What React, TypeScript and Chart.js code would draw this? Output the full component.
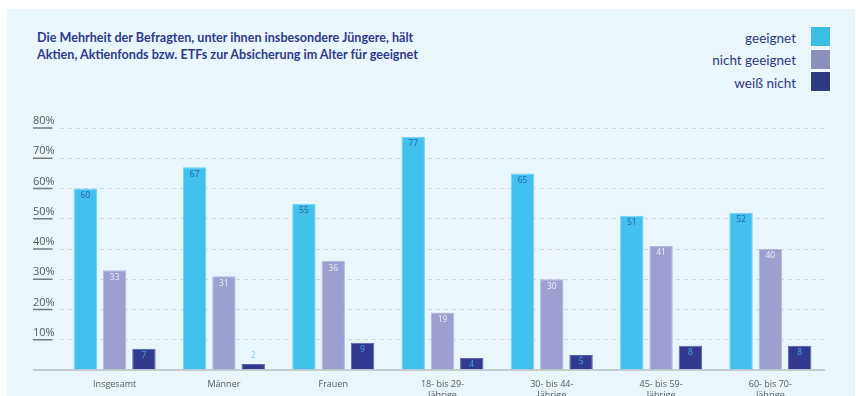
import React, { useEffect, useRef } from "react";
import { Chart, registerables } from "chart.js";

Chart.register(...registerables);

const TITLE_LINES = [
  "Die Mehrheit der Befragten, unter ihnen insbesondere Jüngere, hält",
  "Aktien, Aktienfonds bzw. ETFs zur Absicherung im Alter für geeignet",
];

const CATEGORIES: (string | string[])[] = [
  "Insgesamt",
  "Männer",
  "Frauen",
  ["18- bis 29-", "Jährige"],
  ["30- bis 44-", "Jährige"],
  ["45- bis 59-", "Jährige"],
  ["60- bis 70-", "Jährige"],
];

const SERIES_NAMES = ["geeignet", "nicht geeignet", "weiß nicht"];
const GEEIGNET = [60, 67, 55, 77, 65, 51, 52];
const NICHT_GEEIGNET = [33, 31, 36, 19, 30, 41, 40];
const WEISS_NICHT = [7, 2, 9, 4, 5, 8, 8];

const Y_TICKS = [0, 10, 20, 30, 40, 50, 60, 70, 80];

const BAR_FILL = ["#42c0ee", "#9c9fcf", "#33398e"];
const BAR_BORDER = ["#74d2f3", "#b7badf", "#5b63a8"];
const LEGEND_FILL = ["#38bfe3", "#8b91bd", "#2e3a82"];
const LABEL_COLOR = ["#2f5fa8", "#eef0fa", "#3fa9e6"];
const LABEL_ABOVE_COLOR = "#7fd3f5";

const FONT = "'Open Sans', 'Noto Sans', sans-serif";

const valueLabels = {
  id: "valueLabels",
  afterDatasetsDraw(chart: any) {
    const ctx = chart.ctx;
    ctx.save();
    ctx.font = `8.5px ${FONT}`;
    ctx.textAlign = "center";
    ctx.textBaseline = "middle";
    chart.data.datasets.forEach((ds: any, di: number) => {
      const meta = chart.getDatasetMeta(di);
      meta.data.forEach((bar: any, i: number) => {
        const h = bar.base - bar.y;
        const v = ds.data[i];
        if (h < 10) {
          ctx.fillStyle = LABEL_ABOVE_COLOR;
          ctx.fillText(String(v), bar.x, bar.y - 8);
        } else {
          ctx.fillStyle = LABEL_COLOR[di];
          ctx.fillText(String(v), bar.x, bar.y + 7);
        }
      });
    });
    ctx.restore();
  },
};

const axisDecor = {
  id: "axisDecor",
  afterDraw(chart: any) {
    const ctx = chart.ctx;
    const y = chart.scales.y;
    const area = chart.chartArea;
    ctx.save();
    ctx.lineWidth = 1.5;
    y.ticks.forEach((t: any) => {
      const py = y.getPixelForValue(t.value);
      if (t.value === 0) {
        ctx.strokeStyle = "#b9bec2";
        ctx.beginPath();
        ctx.moveTo(y.left, py);
        ctx.lineTo(area.right, py);
        ctx.stroke();
      } else {
        ctx.strokeStyle = "#6f7c82";
        ctx.beginPath();
        ctx.moveTo(y.left, py);
        ctx.lineTo(y.left + 19.5, py);
        ctx.stroke();
      }
    });
    ctx.restore();
  },
};

export default function App() {
  const canvasRef = useRef<HTMLCanvasElement | null>(null);

  useEffect(() => {
    if (!canvasRef.current) return;
    const data = [GEEIGNET, NICHT_GEEIGNET, WEISS_NICHT];
    const chart = new Chart(canvasRef.current, {
      type: "bar",
      data: {
        labels: CATEGORIES,
        datasets: SERIES_NAMES.map((name, i) => ({
          label: name,
          data: data[i],
          backgroundColor: BAR_FILL[i],
          borderColor: BAR_BORDER[i],
          borderWidth: 1,
          borderSkipped: "bottom",
          categoryPercentage: 0.804,
          barPercentage: 0.8,
        })),
      },
      options: {
        animation: false,
        responsive: false,
        maintainAspectRatio: false,
        layout: { padding: { top: 128, left: 33, right: 31, bottom: 0 } },
        plugins: {
          legend: { display: false },
          tooltip: { enabled: false },
          title: { display: false },
        },
        scales: {
          x: {
            grid: { display: false, drawTicks: false },
            border: { display: false },
            ticks: {
              font: { family: FONT, size: 9, lineHeight: 1.2 },
              color: "#555a5e",
              padding: 9,
              maxRotation: 0,
              autoSkip: false,
            },
            afterFit: (s: any) => {
              s.height = 50;
            },
          },
          y: {
            min: 0,
            max: 80,
            afterBuildTicks: (s: any) => {
              s.ticks = Y_TICKS.map((v) => ({ value: v }));
            },
            grid: {
              color: (c: any) => (c.tick && c.tick.value === 0 ? "rgba(0,0,0,0)" : "#ccd6da"),
              lineWidth: 1,
              drawTicks: false,
            },
            border: { display: false, dash: [4, 4] },
            ticks: {
              callback: (v: any) => (v === 0 ? "" : v + "%"),
              font: { family: FONT, size: 11 },
              color: "#555a5e",
              crossAlign: "far",
              labelOffset: -7,
              padding: 0,
            },
            afterFit: (s: any) => {
              s.width = 27;
            },
          },
        },
      },
      plugins: [valueLabels, axisDecor],
    });
    return () => chart.destroy();
  }, []);

  return (
    <div
      style={{
        position: "absolute",
        left: 0,
        top: 0,
        width: 856,
        height: 396,
        overflow: "hidden",
        background: "#ffffff",
      }}
    >
      <div
        style={{
          position: "absolute",
          left: 7,
          top: 9,
          width: 848,
          height: 400,
          background: "#e9f6fb",
        }}
      />
      <div
        style={{
          position: "absolute",
          left: 37,
          top: 30,
          fontFamily: "Lato, 'Open Sans', sans-serif",
          fontWeight: 700,
          fontSize: 12.6,
          lineHeight: "16.7px",
          color: "#2e3a8c",
          whiteSpace: "nowrap",
        }}
      >
        <div>{TITLE_LINES[0]}</div>
        <div>{TITLE_LINES[1]}</div>
      </div>
      <div style={{ position: "absolute", right: 26, top: 27 }}>
        {SERIES_NAMES.map((name, i) => (
          <div
            key={name}
            style={{
              display: "flex",
              alignItems: "center",
              justifyContent: "flex-end",
              height: 19.5,
              marginBottom: 3,
            }}
          >
            <span
              style={{
                fontFamily: "Lato, 'Open Sans', sans-serif",
                fontSize: 13.5,
                color: "#2e3a80",
                marginRight: 15,
                whiteSpace: "nowrap",
                position: "relative",
                top: 1,
              }}
            >
              {name}
            </span>
            <span
              style={{
                display: "inline-block",
                width: 19,
                height: 19,
                background: LEGEND_FILL[i],
                outline: "1px solid rgba(255,255,255,0.5)",
              }}
            />
          </div>
        ))}
      </div>
      <canvas
        ref={canvasRef}
        width={856}
        height={420}
        style={{ position: "absolute", left: 0, top: 0, width: 856, height: 420 }}
      />
    </div>
  );
}
